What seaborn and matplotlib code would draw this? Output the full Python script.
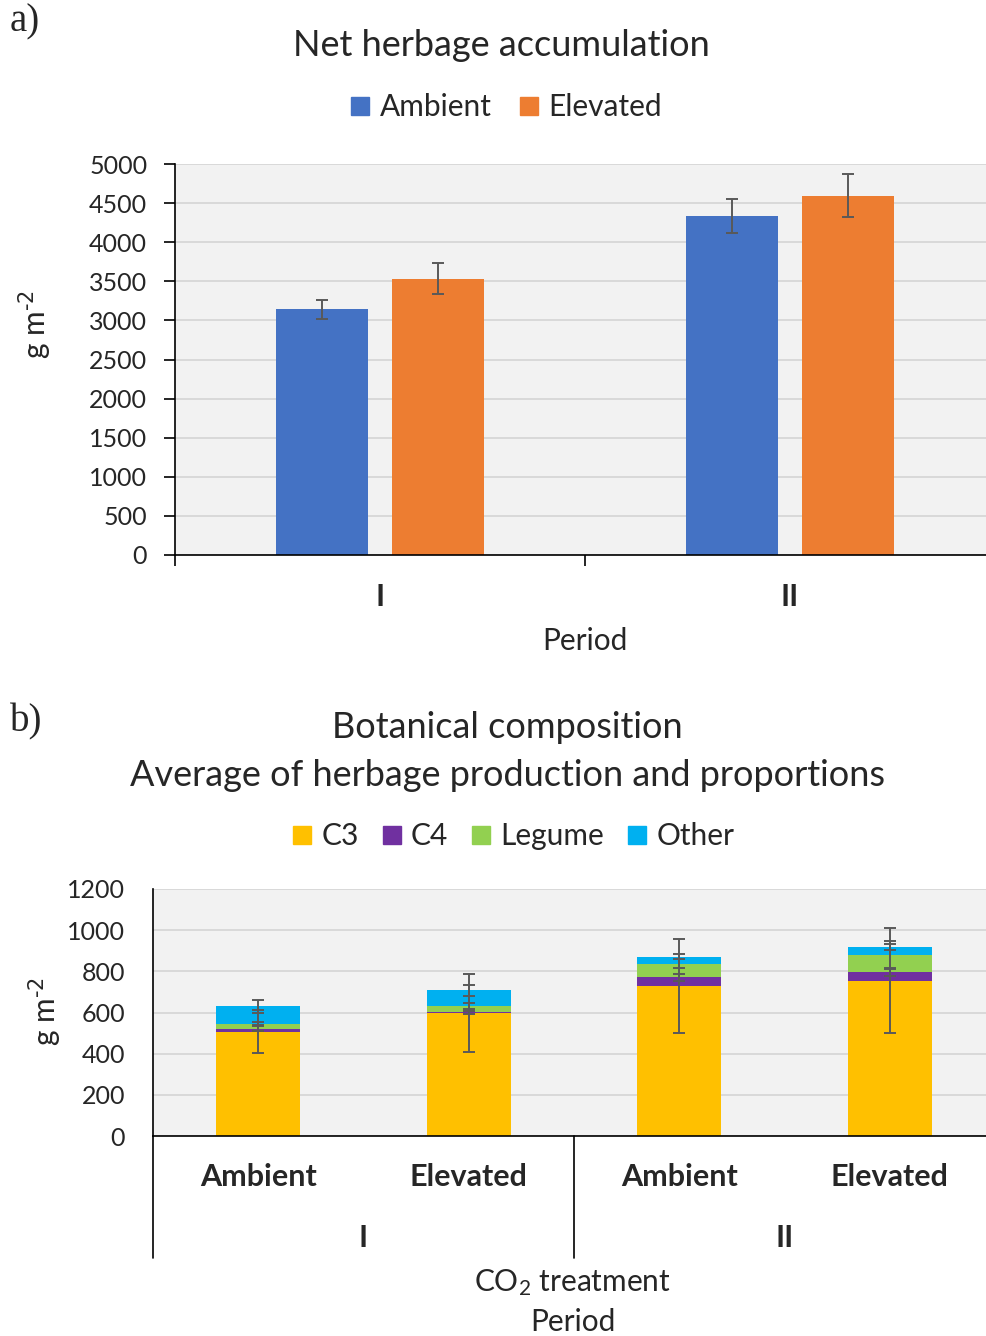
import numpy as np
import pandas as pd
import matplotlib
matplotlib.use("Agg")
import matplotlib.pyplot as plt
import matplotlib.transforms as mtransforms
from matplotlib.lines import Line2D
import seaborn as sns

# ---- data: net herbage accumulation (g m-2) ----
periods = ["I", "II"]
treatments = ["Ambient", "Elevated"]
nha_ambient = [3140, 4335]
nha_elevated = [3533, 4595]
nha_ambient_se = [125, 215]
nha_elevated_se = [195, 272]

# ---- data: botanical composition (g m-2) ----
comp_treatment = ["Ambient", "Elevated", "Ambient", "Elevated"]
comp_period = ["I", "I", "II", "II"]
c3 = [507, 598, 729, 755]
c4 = [15, 3, 42, 41]
legume = [24, 31, 65, 83]
other = [85, 75, 35, 41]
c3_se = [104, 190, 227, 255]
c4_se = [14, 8, 17, 19]
legume_se = [8, 13, 22, 70]
other_se = [31, 25, 12, 14]
components = ["C3", "C4", "Legume", "Other"]

# ---- styling ----
COL_AMB, COL_ELE = "#4472C4", "#ED7D31"
COMP_COLORS = {"C3": "#FFC000", "C4": "#7030A0", "Legume": "#92D050", "Other": "#00B0F0"}
ERR_COL = "#595959"
GRID_COL = "#D9D9D9"
FACE = "#F2F2F2"

sns.set_theme(style="white")
plt.rcParams["font.family"] = ["Lato", "DejaVu Sans"]
plt.rcParams["mathtext.default"] = "regular"

W, H = 987, 1336
fig = plt.figure(figsize=(W / 100, H / 100), dpi=100)


def fy(py):
    return 1 - py / H


TICK_FS = 18
LEG_FS = 21.5
TITLE_FS = 26
LAB_FS = 21.5
CAT_FS = 22
UNIT = "g m$^{\\text{-2}}$"

# =================== panel a ===================
ax1 = fig.add_axes([175 / W, fy(555), 820 / W, 391 / H])
df_a = pd.DataFrame({
    "Period": periods * 2,
    "CO2": ["Ambient"] * 2 + ["Elevated"] * 2,
    "value": nha_ambient + nha_elevated,
})
se_a = {"Ambient": nha_ambient_se, "Elevated": nha_elevated_se}
sns.barplot(data=df_a, x="Period", y="value", hue="CO2", order=periods,
            hue_order=treatments, palette=[COL_AMB, COL_ELE], width=0.566,
            gap=0.21, errorbar=None, saturation=1, legend=False, ax=ax1,
            linewidth=0, zorder=2)
for cont, trt in zip(ax1.containers, treatments):
    for bar in cont:
        xc = bar.get_x() + bar.get_width() / 2
        idx = int(round(xc))
        ax1.errorbar(xc, bar.get_height(), yerr=se_a[trt][idx], color=ERR_COL,
                     lw=1.4, capsize=4, capthick=1.4, zorder=4)

ax1.set_facecolor(FACE)
ax1.set_xlim(-0.5, 1.5)
ax1.set_ylim(0, 5000)
ax1.set_yticks(np.arange(0, 5001, 500))
ax1.yaxis.grid(True, color=GRID_COL, lw=1.4, zorder=0)
ax1.set_axisbelow(True)
for s in ["top", "right"]:
    ax1.spines[s].set_visible(False)
for s in ["left", "bottom"]:
    ax1.spines[s].set_color("black")
    ax1.spines[s].set_linewidth(1.2)
ax1.set_xticks([0, 1])
ax1.set_xticklabels(periods, fontweight="bold", fontsize=CAT_FS)
ax1.set_xticks([-0.5, 0.5, 1.5], minor=True)
ax1.tick_params(axis="x", which="major", length=0, pad=20)
ax1.tick_params(axis="x", which="minor", length=8, width=1.2, color="black",
                direction="out", bottom=True)
ax1.tick_params(axis="y", length=8, width=1.2, color="black", direction="out",
                left=True, pad=12, labelsize=TICK_FS)
ax1.set_xlabel("Period", fontsize=LAB_FS, labelpad=12)
ax1.set_ylabel("")

fig.text(35 / W, fy(325), UNIT, rotation=90, ha="center", va="center",
         fontsize=LAB_FS)
fig.text(501 / W, fy(46), "Net herbage accumulation", ha="center", va="center",
         fontsize=TITLE_FS)
fig.text(10 / W, fy(22), "a)", ha="left", va="center", fontsize=28,
         family="Liberation Serif")

handles_a = [Line2D([], [], marker="s", ls="", color=c, markersize=13)
             for c in (COL_AMB, COL_ELE)]
fig.legend(handles_a, treatments, loc="center", bbox_to_anchor=(506 / W, fy(107)),
           ncol=2, frameon=False, fontsize=LEG_FS, handletextpad=0.3,
           columnspacing=0.9, handlelength=0.7)

# =================== panel b ===================
ax2 = fig.add_axes([153 / W, fy(1136), 842 / W, 247 / H])
xkeys = [f"{p} {t}" for p, t in zip(comp_period, comp_treatment)]
layers = {"C3": np.array(c3, float)}
layers["C4"] = layers["C3"] + np.array(c4, float)
layers["Legume"] = layers["C4"] + np.array(legume, float)
layers["Other"] = layers["Legume"] + np.array(other, float)
errs = {"C3": c3_se, "C4": c4_se, "Legume": legume_se, "Other": other_se}

# stacked bars: draw cumulative totals from the top layer down
for comp in reversed(components):
    df_b = pd.DataFrame({"group": xkeys, "top": layers[comp]})
    sns.barplot(data=df_b, x="group", y="top", order=xkeys,
                color=COMP_COLORS[comp], width=0.40, errorbar=None,
                saturation=1, linewidth=0, ax=ax2, zorder=2)
for comp in components:
    ax2.errorbar(np.arange(len(xkeys)), layers[comp], yerr=errs[comp], fmt="none",
                 ecolor=ERR_COL, lw=1.4, capsize=4, capthick=1.4, zorder=5)

ax2.set_facecolor(FACE)
ax2.set_xlim(-0.5, 3.5)
ax2.set_ylim(0, 1200)
ax2.set_yticks(np.arange(0, 1201, 200))
ax2.yaxis.grid(True, color=GRID_COL, lw=1.4, zorder=0)
ax2.set_axisbelow(True)
for s in ["top", "right"]:
    ax2.spines[s].set_visible(False)
for s in ["left", "bottom"]:
    ax2.spines[s].set_color("black")
    ax2.spines[s].set_linewidth(1.2)
ax2.set_xticks([])
ax2.set_xlabel("")
ax2.set_ylabel("")
ax2.tick_params(axis="y", length=0, pad=20, labelsize=TICK_FS)

# two-level category labels
trans = mtransforms.blended_transform_factory(ax2.transData, ax2.transAxes)
h_ax = 247
y_trt = -(1177 - 1136) / h_ax
y_per = -(1238 - 1136) / h_ax
y_end = -(1258 - 1136) / h_ax
for i, t in enumerate(comp_treatment):
    ax2.text(i, y_trt, t, transform=trans, ha="center", va="center",
             fontsize=CAT_FS, fontweight="bold")
for j, p in enumerate(periods):
    ax2.text(2 * j + 0.5, y_per, p, transform=trans, ha="center", va="center",
             fontsize=CAT_FS, fontweight="bold")
for xb in (-0.5, 1.5):
    ax2.add_line(Line2D([xb, xb], [0, y_end], transform=trans, color="black",
                        lw=1.2, clip_on=False))

fig.text(573 / W, fy(1283), "CO$_2$ treatment", ha="center", va="center",
         fontsize=LAB_FS)
fig.text(573 / W, fy(1322), "Period", ha="center", va="center", fontsize=LAB_FS)
fig.text(45 / W, fy(1012), UNIT, rotation=90, ha="center", va="center",
         fontsize=LAB_FS)
fig.text(507 / W, fy(727), "Botanical composition", ha="center", va="center",
         fontsize=TITLE_FS)
fig.text(507 / W, fy(775), "Average of herbage production and proportions",
         ha="center", va="center", fontsize=TITLE_FS)
fig.text(10 / W, fy(722), "b)", ha="left", va="center", fontsize=28,
         family="Liberation Serif")

handles_b = [Line2D([], [], marker="s", ls="", color=COMP_COLORS[c], markersize=13)
             for c in components]
fig.legend(handles_b, components, loc="center", bbox_to_anchor=(513 / W, fy(836)),
           ncol=4, frameon=False, fontsize=LEG_FS, handletextpad=0.3,
           columnspacing=0.75, handlelength=0.7)

fig.savefig("out.png", dpi=100)
